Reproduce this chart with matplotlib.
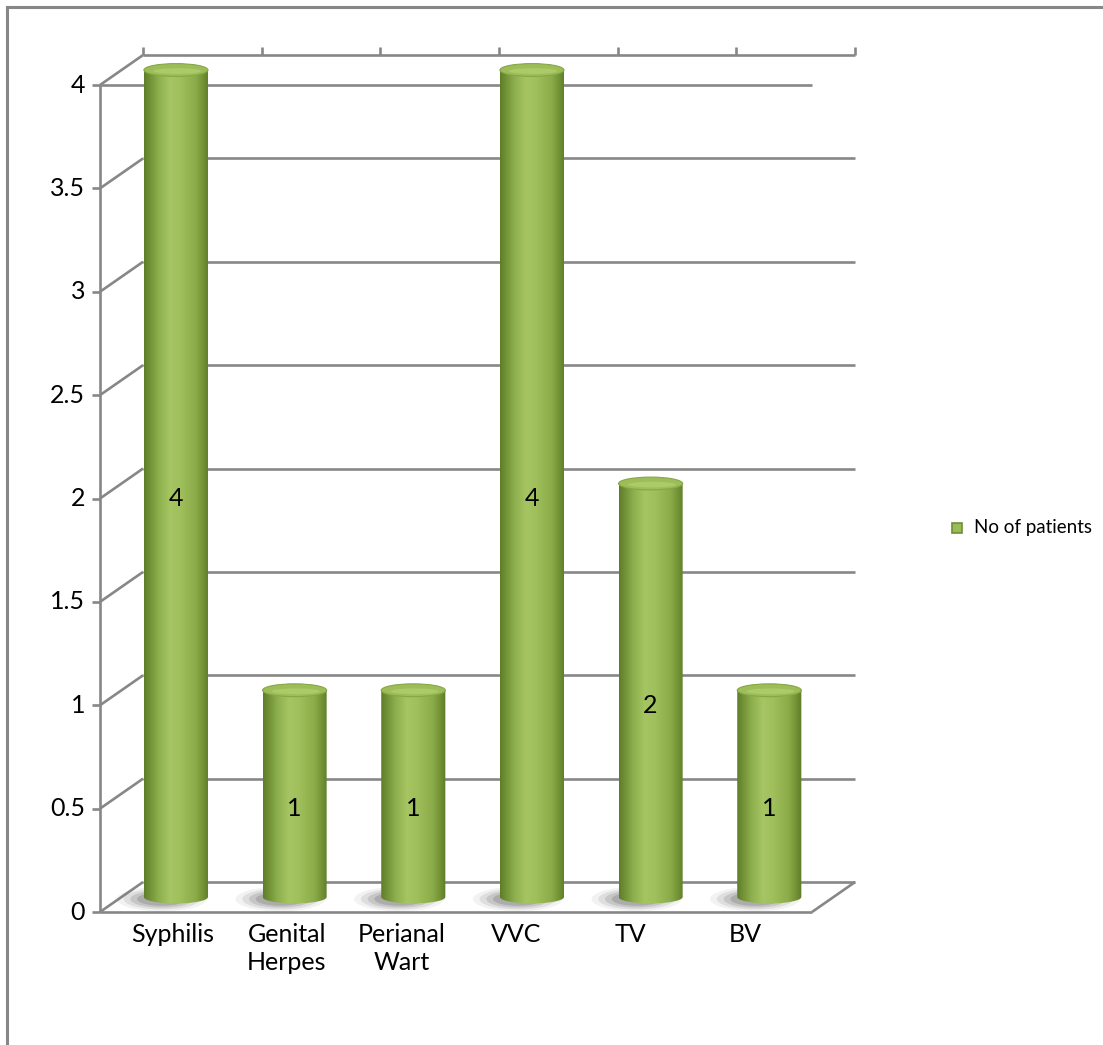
import numpy as np
import matplotlib
matplotlib.use("Agg")
import matplotlib.pyplot as plt
from matplotlib.colors import LinearSegmentedColormap
from matplotlib.patches import Ellipse, Polygon, Rectangle
from matplotlib.lines import Line2D

plt.rcParams['font.family'] = ['Lato', 'DejaVu Sans']

# --- data ---
categories = ["Syphilis", "Genital\nHerpes", "Perianal\nWart", "VVC", "TV", "BV"]
patients = [4, 1, 1, 4, 2, 1]
y_ticks = [0, 0.5, 1, 1.5, 2, 2.5, 3, 3.5, 4]
y_tick_labels = ["0", "0.5", "1", "1.5", "2", "2.5", "3", "3.5", "4"]
series_name = "No of patients"

GRID = "#878787"
FS = 18

fig = plt.figure(figsize=(11.03, 10.45), dpi=100)
ax = fig.add_axes([100 / 1103, 133 / 1045, 712 / 1103, 827 / 1045])
ax.set_xlim(-0.5, 5.5)
ax.set_ylim(0, 4)
ax.axis("off")

# depth offset of the back wall (data units)
dx, dy = 0.363, 0.145
x0, x1 = -0.5, 5.5

# chart border (left and top only)
fig.add_artist(Line2D([7 / 1103, 7 / 1103], [0, 1 - 7 / 1045], transform=fig.transFigure,
                      color=GRID, lw=2.2))
fig.add_artist(Line2D([7 / 1103, 1], [1 - 7 / 1045, 1 - 7 / 1045], transform=fig.transFigure,
                      color=GRID, lw=2.2))

kw = dict(color=GRID, lw=1.9, clip_on=False, zorder=1, solid_capstyle="butt")
# back wall gridlines and side wall diagonals
for v in y_ticks:
    ax.plot([x0 + dx, x1 + dx], [v + dy, v + dy], **kw)
    ax.plot([x0, x0 + dx], [v, v + dy], **kw)
    ax.plot([x0 - 0.07, x0], [v, v], **kw)
# front axis, top front edge and floor
ax.plot([x0, x0], [0, 4], **kw)
ax.plot([x0, x1], [4, 4], **kw)
ax.plot([x0, x1], [0, 0], **kw)
ax.plot([x1, x1 + dx], [0, dy], **kw)
# category ticks on top of the back wall
for k in range(7):
    xt = x0 + dx + k
    ax.plot([xt, xt], [4 + dy, 4 + dy + 0.04], **kw)

# cylinder shading
body_cmap = LinearSegmentedColormap.from_list("cyl", [
    (0.0, "#5f7d2a"), (0.08, "#6f8f35"), (0.22, "#8dae4c"), (0.4, "#a6c563"),
    (0.55, "#a0c05c"), (0.8, "#8aab48"), (0.93, "#6e8e32"), (1.0, "#5c7a28")])
grad = body_cmap(np.linspace(0, 1, 256))[None, :, :]

half_w = 0.27
ell_h = 0.062
for i, v in enumerate(patients):
    cx = i + 0.14
    yb = dy / 2
    yt = v + dy / 2
    # floor shadow, soft and to the lower left
    for s, a in [(1.0, 0.08), (0.85, 0.13), (0.7, 0.18), (0.55, 0.24)]:
        ax.add_patch(Ellipse((cx - 0.12, yb - 0.01), 2 * half_w * 1.4 * s, ell_h * 1.9 * s,
                             facecolor="#5a5a5a", edgecolor="none", alpha=a,
                             clip_on=False, zorder=2))
    # body with rounded bottom
    t = np.linspace(np.pi, 2 * np.pi, 40)
    pts = [(cx - half_w, yt), (cx - half_w, yb)]
    pts += list(zip(cx + half_w * np.cos(t), yb + ell_h / 2 * np.sin(t)))
    pts += [(cx + half_w, yb), (cx + half_w, yt)]
    clip = Polygon(pts, closed=True, transform=ax.transData, facecolor="none", edgecolor="none")
    ax.add_patch(clip)
    im = ax.imshow(grad, extent=[cx - half_w, cx + half_w, yb - ell_h, yt], aspect="auto",
                   zorder=3, interpolation="bilinear")
    im.set_clip_box(fig.bbox)
    im.set_clip_path(clip)
    # top cap
    ax.add_patch(Ellipse((cx, yt), 2 * half_w, ell_h, facecolor="#9cbd58",
                         edgecolor="#86a745", lw=0.8, clip_on=False, zorder=4))
    ax.add_patch(Ellipse((cx + 0.01, yt - 0.005), 2 * half_w * 0.75, ell_h * 0.45,
                         facecolor="#b6d373", edgecolor="none", alpha=0.6,
                         clip_on=False, zorder=5))
    # value label
    ax.text(cx, v / 2, str(v), ha="center", va="center", fontsize=FS, color="black", zorder=6)

ax.set_xlim(-0.5, 5.5)
ax.set_ylim(0, 4)

# value axis labels
for v, lab in zip(y_ticks, y_tick_labels):
    ax.text(x0 - 0.125, v, lab, ha="right", va="center", fontsize=FS, clip_on=False)

# category labels
label_x = np.arange(len(categories)) * 0.965 + 0.11
for xl, lab in zip(label_x, categories):
    ax.text(xl, -0.055, lab, ha="center", va="top", fontsize=FS, linespacing=1.25)

# legend
lx, ly, sz = 952 / 1103, 1 - 533 / 1045, 10 / 1103
fig.add_artist(Rectangle((lx, ly), sz, sz * 1103 / 1045, transform=fig.transFigure,
                         facecolor="#9bbb59", edgecolor="#6f8f35", lw=1.2))
fig.text(974 / 1103, 1 - 528 / 1045, series_name, ha="left", va="center", fontsize=13.5)

fig.savefig("out.png", dpi=100)
